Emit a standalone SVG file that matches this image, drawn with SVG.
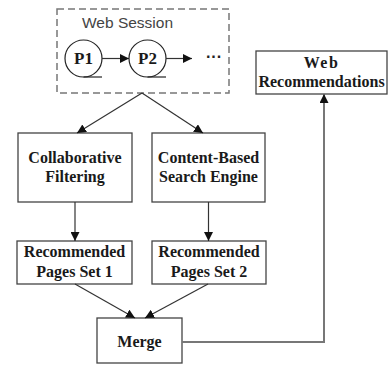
<svg xmlns="http://www.w3.org/2000/svg" width="390" height="365" viewBox="0 0 390 365">
<style>
.box{fill:#fff;stroke:#444;stroke-width:1.3}
.t{font-family:"Liberation Serif","Times New Roman",serif;font-weight:bold;font-size:16px;fill:#1a1a1a;text-anchor:middle}
.p{font-size:17px}
.s{font-family:"Liberation Sans",Arial,sans-serif;font-size:15.5px;fill:#444}
.c{fill:none;stroke:#333;stroke-width:1.2}
</style>
<defs>
<marker id="ah" viewBox="0 0 10 10" refX="10" refY="5" markerWidth="9" markerHeight="9" markerUnits="userSpaceOnUse" orient="auto">
<path d="M0,0 L10,5 L0,10 z" fill="#111"/>
</marker>
</defs>
<g id="web-session">
<rect x="57" y="9" width="172" height="84" fill="none" stroke="#777" stroke-width="1.5" stroke-dasharray="7,4"/>
<text class="s" x="82" y="28">Web Session</text>
</g>
<g id="p1">
<circle cx="83.5" cy="58.5" r="18.5" fill="#fff" stroke="#222" stroke-width="1.2"/>
<line x1="83.5" y1="77" x2="102" y2="77" stroke="#222" stroke-width="1.2"/>
<text class="t p" x="83.5" y="64">P1</text>
</g>
<g id="p2">
<circle cx="147.5" cy="58.5" r="18.5" fill="#fff" stroke="#222" stroke-width="1.2"/>
<line x1="147.5" y1="77" x2="166" y2="77" stroke="#222" stroke-width="1.2"/>
<text class="t p" x="147.5" y="64">P2</text>
</g>
<g id="ellipsis">
<text x="214" y="62" font-family="Liberation Sans,Arial,sans-serif" font-weight="bold" font-size="16" fill="#222" text-anchor="middle">···</text>
</g>
<g id="cf">
<rect class="box" x="18" y="133" width="114" height="69"/>
<text class="t" x="75" y="163">Collaborative</text>
<text class="t" x="75" y="182">Filtering</text>
</g>
<g id="cb">
<rect class="box" x="152" y="133" width="113" height="69"/>
<text class="t" x="208.5" y="163">Content-Based</text>
<text class="t" x="208.5" y="182">Search Engine</text>
</g>
<g id="rp1">
<rect class="box" x="17" y="241" width="115" height="43"/>
<text class="t" x="74.5" y="257">Recommended</text>
<text class="t" x="74.5" y="277">Pages Set 1</text>
</g>
<g id="rp2">
<rect class="box" x="152" y="241" width="114" height="43"/>
<text class="t" x="209" y="257">Recommended</text>
<text class="t" x="209" y="277">Pages Set 2</text>
</g>
<g id="merge">
<rect class="box" x="97" y="318" width="85" height="45"/>
<text class="t" x="139.5" y="347">Merge</text>
</g>
<g id="webrec">
<rect class="box" x="256" y="51" width="131" height="43"/>
<text class="t" x="321.5" y="68" letter-spacing="1.5">Web</text>
<text class="t" x="321.5" y="87">Recommendations</text>
</g>
<g id="connectors">
<line class="c" x1="102" y1="58.5" x2="129" y2="58.5" marker-end="url(#ah)"/>
<line class="c" x1="166" y1="58.5" x2="192" y2="58.5" marker-end="url(#ah)"/>
<line class="c" x1="142" y1="93" x2="77" y2="133" marker-end="url(#ah)"/>
<line class="c" x1="142" y1="93" x2="203" y2="133" marker-end="url(#ah)"/>
<line class="c" x1="75" y1="202" x2="75" y2="241" marker-end="url(#ah)"/>
<line class="c" x1="208.5" y1="202" x2="208.5" y2="241" marker-end="url(#ah)"/>
<line class="c" x1="75" y1="284" x2="135" y2="318" marker-end="url(#ah)"/>
<line class="c" x1="208" y1="284" x2="145" y2="318" marker-end="url(#ah)"/>
<polyline points="182,342 324,342 324,94" fill="none" stroke="#777" stroke-width="2" marker-end="url(#ah)"/>
</g>
</svg>
